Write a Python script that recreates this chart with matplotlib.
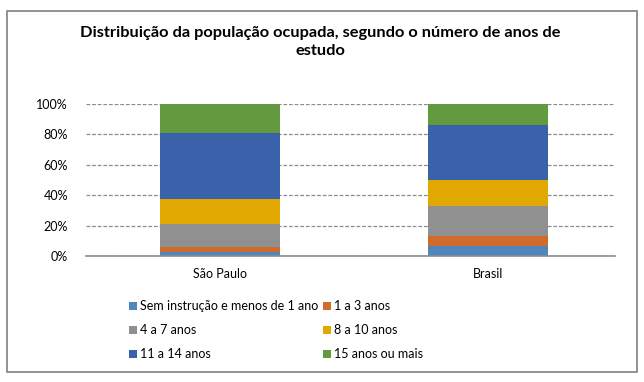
import matplotlib
matplotlib.use("Agg")
import matplotlib.pyplot as plt
from matplotlib.patches import Rectangle
import numpy as np

categories = ["São Paulo", "Brasil"]
series_names = ["Sem instrução e menos de 1 ano", "1 a 3 anos", "4 a 7 anos",
                "8 a 10 anos", "11 a 14 anos", "15 anos ou mais"]
sem_instrucao = [2.4, 6.4]
anos_1_3 = [3.5, 6.8]
anos_4_7 = [15.2, 19.8]
anos_8_10 = [16.5, 17.1]
anos_11_14 = [43.5, 36.3]
anos_15_mais = [18.9, 13.6]
yticks = [0, 20, 40, 60, 80, 100]
ytick_labels = ["0%", "20%", "40%", "60%", "80%", "100%"]
title = "Distribuição da população ocupada, segundo o número de anos de\nestudo"

series = [sem_instrucao, anos_1_3, anos_4_7, anos_8_10, anos_11_14, anos_15_mais]
colors = ["#4F87BC", "#D16B2B", "#909090", "#E0A800", "#3A62AA", "#639A40"]

plt.rcParams['font.family'] = ['Lato', 'DejaVu Sans']

W, H = 644, 382
fig = plt.figure(figsize=(W / 100, H / 100), dpi=100)

# outer border
fig.patches.append(Rectangle((7 / W, 1 - 372 / H), (637 - 7) / W, (372 - 11) / H,
                             transform=fig.transFigure, fill=False,
                             edgecolor="#808080", linewidth=1.2))

ax = fig.add_axes([86 / W, 1 - 256 / H, (615 - 86) / W, (256 - 104) / H])
x = np.arange(len(categories))
bottom = np.zeros(len(categories))
handles = []
for name, vals, c in zip(series_names, series, colors):
    b = ax.bar(x, vals, width=0.448, bottom=bottom, color=c, label=name, zorder=3)
    handles.append(b)
    bottom += np.array(vals)

ax.set_xlim(-0.5, 1.474)
ax.set_ylim(0, 100)
ax.set_yticks(yticks)
ax.set_yticklabels(ytick_labels)
ax.set_xticks(x)
ax.set_xticklabels(categories)
ax.tick_params(axis="both", length=0, labelsize=9, colors="#000000")
ax.tick_params(axis="y", pad=13)
ax.tick_params(axis="x", pad=9)
ax.yaxis.grid(True, linestyle=(0, (3, 1.5)), color="#8c8c8c", linewidth=0.9, zorder=0)
for s in ["top", "right", "left"]:
    ax.spines[s].set_visible(False)
ax.spines["bottom"].set_color("#8c8c8c")
ax.spines["bottom"].set_linewidth(1.2)
ax.spines["bottom"].set_zorder(4)

fig.text(320 / W, 1 - 42 / H, title, ha="center", va="center", fontsize=11.8,
         fontweight="bold", linespacing=1.3)

order = [0, 2, 4, 1, 3, 5]
fig.legend(handles=[handles[i] for i in order], labels=[series_names[i] for i in order],
           ncol=2, loc="upper left", bbox_to_anchor=(118 / W, 1 - 289 / H),
           frameon=False, fontsize=9, handlelength=0.6, handleheight=0.6,
           handletextpad=0.3, columnspacing=0.35, labelspacing=0.95)

fig.savefig("out.png", dpi=100)
